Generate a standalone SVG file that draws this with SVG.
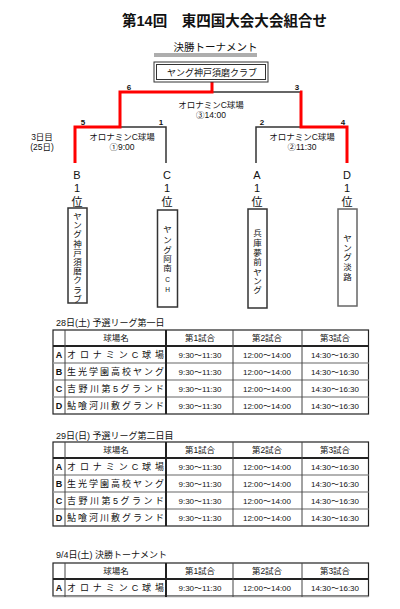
<svg xmlns="http://www.w3.org/2000/svg" width="400" height="609" viewBox="0 0 400 609">
<style>
text{font-family:"Liberation Sans","Noto Sans CJK JP",sans-serif;fill:#111}
.t{font-size:14.5px;font-weight:bold}
.sub{font-size:10.5px}
.num{font-size:8px;font-weight:bold}
.lbl{font-size:8.5px}
.c{text-anchor:middle}
.rank{font-size:11px;text-anchor:middle}
.vt{font-size:8.5px;text-anchor:middle}
.vs{font-size:6.5px;text-anchor:middle}
.red{stroke:#ff0000;stroke-width:3;fill:none}
.blk{stroke:#333;stroke-width:1.5;fill:none}
.box{fill:#fff;stroke:#333;stroke-width:1.5}
.tt{font-size:9px}
.th{font-size:8.5px;text-anchor:middle}
.tm{font-size:8px;text-anchor:middle}
.tl{font-size:9px;font-weight:bold;text-anchor:middle}
.tn{font-size:9px}
.outer{fill:#fff;stroke:#222;stroke-width:1.2}
.hl{stroke:#999;stroke-width:1.5}
.vl{stroke:#444;stroke-width:1}
.vk{stroke:#222;stroke-width:2}
</style>
<defs>
<g id="tbl">
<rect class="outer" x="53" y="0" width="315.5" height="84"/>
<line class="vk" x1="53" y1="16" x2="368.5" y2="16"/>
<line class="hl" x1="53" y1="33" x2="368.5" y2="33"/>
<line class="hl" x1="53" y1="50" x2="368.5" y2="50"/>
<line class="hl" x1="53" y1="67" x2="368.5" y2="67"/>
<line class="vl" x1="65" y1="0" x2="65" y2="84"/>
<line class="vk" x1="166" y1="0" x2="166" y2="84"/>
<line class="vl" x1="233" y1="0" x2="233" y2="84"/>
<line class="vl" x1="302" y1="0" x2="302" y2="84"/>
<text class="th" x="116" y="11">球場名</text>
<text class="th" x="200" y="11">第1試合</text>
<text class="th" x="267" y="11">第2試合</text>
<text class="th" x="335" y="11">第3試合</text>
<g id="r1">
<text class="tl" x="59" y="28">A</text>
<text class="tn" x="67" y="28" textLength="97" lengthAdjust="spacing">オロナミンC球場</text>
<text class="tm" x="200" y="28">9:30〜11:30</text>
<text class="tm" x="267" y="28">12:00〜14:00</text>
<text class="tm" x="335" y="28">14:30〜16:30</text>
</g>
<text class="tl" x="59" y="45">B</text>
<text class="tn" x="67" y="45" textLength="97" lengthAdjust="spacing">生光学園高校ヤング</text>
<text class="tm" x="200" y="45">9:30〜11:30</text>
<text class="tm" x="267" y="45">12:00〜14:00</text>
<text class="tm" x="335" y="45">14:30〜16:30</text>
<text class="tl" x="59" y="62">C</text>
<text class="tn" x="67" y="62" textLength="97" lengthAdjust="spacing">吉野川第5グランド</text>
<text class="tm" x="200" y="62">9:30〜11:30</text>
<text class="tm" x="267" y="62">12:00〜14:00</text>
<text class="tm" x="335" y="62">14:30〜16:30</text>
<text class="tl" x="59" y="79">D</text>
<text class="tn" x="67" y="79" textLength="97" lengthAdjust="spacing">鮎喰河川敷グランド</text>
<text class="tm" x="200" y="79">9:30〜11:30</text>
<text class="tm" x="267" y="79">12:00〜14:00</text>
<text class="tm" x="335" y="79">14:30〜16:30</text>
</g>
</defs>
<rect width="400" height="609" fill="#fff"/>
<text class="t" x="122" y="26" textLength="205" lengthAdjust="spacingAndGlyphs">第14回　東四国大会大会組合せ</text>
<text class="sub c" x="215.5" y="51">決勝トーナメント</text>
<line x1="154" y1="54" x2="257" y2="54" stroke="#333" stroke-width="0.8"/>
<line x1="154" y1="56" x2="257" y2="56" stroke="#333" stroke-width="0.8"/>

<g id="connectors">
<polyline class="blk" points="212,92 300,92"/>
<polyline class="blk" points="120,127 166,127 166,163"/>
<polyline class="blk" points="301,127 256,127 256,163"/>
<polyline class="red" points="212,82 212,92 120,92 120,127 75,127 75,163"/>
<polyline class="red" points="300,92 301,92 301,127 347,127 347,163"/>
</g>

<g id="champion">
<rect x="154" y="62" width="114" height="20" fill="#fff" stroke="#333" stroke-width="1"/>
<rect x="156.5" y="64.5" width="109" height="15" fill="none" stroke="#333" stroke-width="1"/>
<text class="c" style="font-size:9px" x="212" y="75.5">ヤング神戸須磨クラブ</text>
</g>

<g id="labels">
<text class="num c" x="129" y="90">6</text>
<text class="num c" x="297" y="90">3</text>
<text class="num c" x="83" y="125">5</text>
<text class="num c" x="161" y="125">1</text>
<text class="num c" x="262" y="125">2</text>
<text class="num c" x="343" y="125">4</text>
<text class="lbl c" x="211" y="108">オロナミンC球場</text>
<text class="lbl c" x="211" y="118">③14:00</text>
<text class="lbl c" x="122" y="140">オロナミンC球場</text>
<text class="lbl c" x="122" y="150">①9:00</text>
<text class="lbl c" x="302" y="140">オロナミンC球場</text>
<text class="lbl c" x="302" y="150">②11:30</text>
<text class="lbl c" x="42" y="140">3日目</text>
<text class="lbl c" x="42" y="150">(25日)</text>
</g>

<g id="teamB">
<text class="rank" x="77" y="179">B</text>
<text class="rank" x="77" y="192">1</text>
<text class="rank" x="77" y="205.5">位</text>
<rect class="box" x="68" y="208" width="19" height="95"/>
<text class="vt"><tspan x="77.5" y="219">ヤ</tspan><tspan x="77.5" y="228.2">ン</tspan><tspan x="77.5" y="237.4">グ</tspan><tspan x="77.5" y="246.6">神</tspan><tspan x="77.5" y="255.8">戸</tspan><tspan x="77.5" y="265">須</tspan><tspan x="77.5" y="274.2">磨</tspan><tspan x="77.5" y="283.4">ク</tspan><tspan x="77.5" y="292.6">ラ</tspan><tspan x="77.5" y="301.8">ブ</tspan></text>
</g>
<g id="teamC">
<text class="rank" x="167" y="179">C</text>
<text class="rank" x="167" y="192">1</text>
<text class="rank" x="167" y="205.5">位</text>
<rect class="box" x="157.5" y="210" width="20" height="97"/>
<text class="vt"><tspan x="167.5" y="232">ヤ</tspan><tspan x="167.5" y="242.5">ン</tspan><tspan x="167.5" y="252.5">グ</tspan><tspan x="167.5" y="262">阿</tspan><tspan x="167.5" y="271">南</tspan></text>
<text class="vs"><tspan x="167.5" y="281.5">C</tspan><tspan x="167.5" y="291.5">H</tspan></text>
</g>
<g id="teamA">
<text class="rank" x="257" y="179">A</text>
<text class="rank" x="257" y="192">1</text>
<text class="rank" x="257" y="205.5">位</text>
<rect class="box" x="248" y="209" width="19" height="99"/>
<text class="vt"><tspan x="257.5" y="236">兵</tspan><tspan x="257.5" y="246">庫</tspan><tspan x="257.5" y="256">夢</tspan><tspan x="257.5" y="265">前</tspan><tspan x="257.5" y="275">ヤ</tspan><tspan x="257.5" y="284">ン</tspan><tspan x="257.5" y="293">グ</tspan></text>
</g>
<g id="teamD">
<text class="rank" x="347" y="179">D</text>
<text class="rank" x="347" y="192">1</text>
<text class="rank" x="347" y="205.5">位</text>
<rect class="box" x="338" y="209" width="19" height="97" style="stroke:#666"/>
<text class="vt"><tspan x="347.5" y="241">ヤ</tspan><tspan x="347.5" y="250.5">ン</tspan><tspan x="347.5" y="260">グ</tspan><tspan x="347.5" y="270">淡</tspan><tspan x="347.5" y="280">路</tspan></text>
</g>

<g id="table1">
<text class="tt" x="56" y="326">28日(土) 予選リーグ第一日</text>
<use href="#tbl" x="0" y="330"/>
</g>
<g id="table2">
<text class="tt" x="56" y="439">29日(日)  予選リーグ第二日目</text>
<use href="#tbl" x="0" y="442"/>
</g>
<g id="table3">
<text class="tt" x="56" y="558">9/4日(土)  決勝トーナメント</text>
<rect class="outer" x="53" y="563" width="315.5" height="33"/>
<line class="vk" x1="53" y1="579" x2="368.5" y2="579"/>
<line class="hl" x1="53" y1="596.5" x2="368.5" y2="596.5"/>
<line class="vl" x1="65" y1="563" x2="65" y2="597"/>
<line class="vk" x1="166" y1="563" x2="166" y2="597"/>
<line class="vl" x1="233" y1="563" x2="233" y2="597"/>
<line class="vl" x1="302" y1="563" x2="302" y2="597"/>
<text class="th" x="116" y="574">球場名</text>
<text class="th" x="200" y="574">第1試合</text>
<text class="th" x="267" y="574">第2試合</text>
<text class="th" x="335" y="574">第3試合</text>
<use href="#r1" x="0" y="563"/>
</g>
</svg>
